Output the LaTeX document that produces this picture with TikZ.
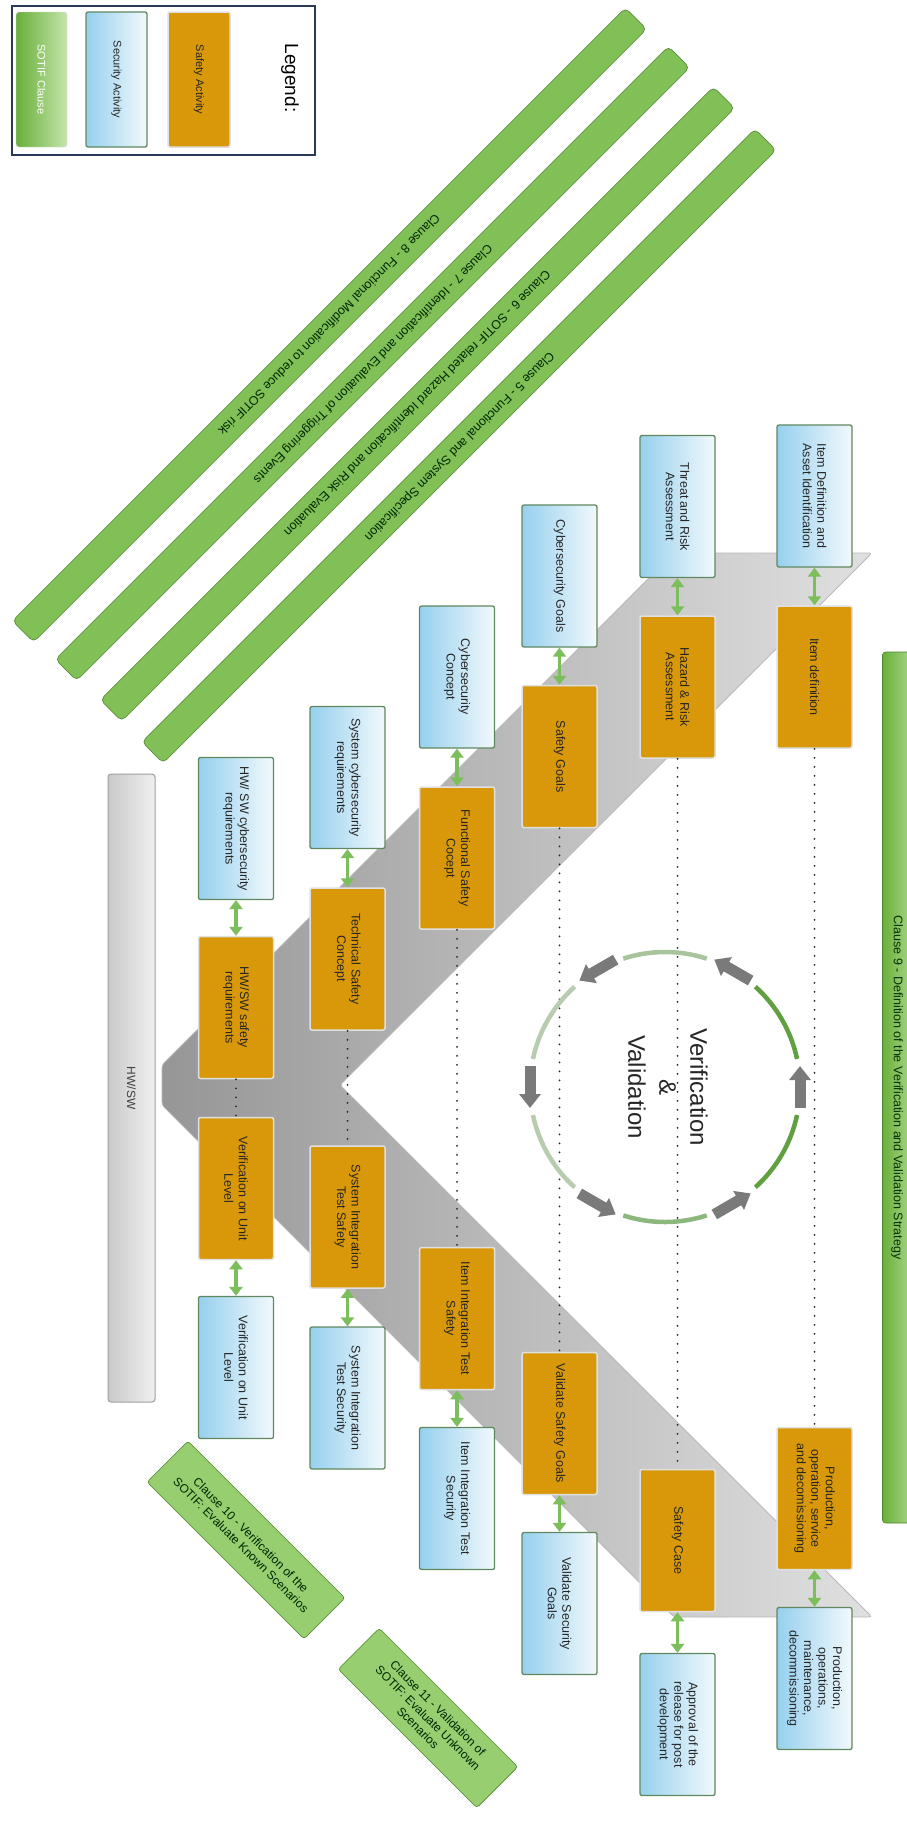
\documentclass[tikz,border=0pt]{standalone}
\usepackage{fontspec}
\setmainfont{Liberation Sans}
\usetikzlibrary{arrows.meta}
\definecolor{org}{RGB}{217,152,10}
\definecolor{bluel}{RGB}{150,208,238}
\definecolor{bluer}{RGB}{242,249,252}
\definecolor{bborder}{RGB}{96,136,96}
\definecolor{gdark}{RGB}{104,176,58}
\definecolor{glight}{RGB}{196,228,170}
\definecolor{gbar}{RGB}{128,192,86}
\definecolor{gbox}{RGB}{150,206,112}
\definecolor{arrowg}{RGB}{124,190,92}
\definecolor{navy}{RGB}{44,56,88}
\definecolor{vdark}{RGB}{150,150,150}
\definecolor{vlight}{RGB}{224,224,224}
\definecolor{ringl}{RGB}{184,204,176}
\definecolor{ringm}{RGB}{140,184,126}
\definecolor{ringd}{RGB}{96,160,64}
\definecolor{cycg}{RGB}{122,122,122}
\begin{document}
\begin{tikzpicture}[x=1pt,y=1pt,
  boxfont/.style={font=\fontsize{12.5}{14.5}\selectfont},
  safety/.style={boxfont, rotate=-90, minimum width=142pt, minimum height=75pt, rounded corners=2pt, fill=org, draw=white!88!black, line width=1.5pt, align=center, text=black!85, inner sep=2pt},
  security/.style={boxfont, rotate=-90, minimum width=142pt, minimum height=75pt, rounded corners=2pt, left color=bluel, right color=bluer, draw=bborder, line width=1.3pt, align=center, text=black!85, inner sep=2pt},
  dbl/.style={draw=arrowg, line width=3.5pt, {Triangle[width=13pt,length=9pt]}-{Triangle[width=13pt,length=9pt]}},
  dotline/.style={black!85, line width=2pt, dash pattern=on 0pt off 9pt, line cap=round},
  clausebar/.style={rotate=225, minimum width=867pt, minimum height=30pt, rounded corners=5pt, fill=gbar, draw=gdark!75!black, line width=0.6pt, font=\fontsize{12.5}{14}\selectfont, text=black!85!green, inner sep=0pt},
  clausebox/.style={rotate=-45, minimum height=58pt, rounded corners=3pt, fill=gbox, draw=gdark!75!black, line width=0.6pt, align=center, font=\fontsize{12}{14}\selectfont, text=black!85!green, inner sep=2pt},
  cyc/.style={draw=cycg, line width=11pt, -{Triangle[width=21pt,length=14pt]}},
  ring/.style={line width=4.5pt},
]
\useasboundingbox (0,0) rectangle (907,-1821);
\fill[white] (0,0) rectangle (907,-1821);

% Legend
\draw[navy, line width=2pt] (12,-6) rectangle (315,-155);
\node (lgclause) [rotate=-90, minimum width=135pt, minimum height=51pt, rounded corners=3pt, left color=gdark, right color=glight, draw=white!85!black, font=\fontsize{11}{13}\selectfont, text=white] at (41.5,-79.5) {SOTIF Clause};
\node (lgsec) [security, minimum width=135pt, minimum height=61pt, font=\fontsize{11}{13}\selectfont] at (116.5,-79.5) {Security Activity};
\node (lgsaf) [safety, minimum width=135pt, minimum height=62pt, font=\fontsize{11}{13}\selectfont] at (199,-79.5) {Safety Activity};
\node (lgtitle) [rotate=-90, font=\fontsize{19}{22}\selectfont] at (290,-78) {Legend:};

% Clause bars
\node[clausebar] (c8) at (329.5,-325) {Clause 8 - Functional Modification to reduce SOTIF risk};
\node[clausebar] (c7) at (372.5,-363.5) {Clause 7 - Identification and Evaluation of Triggering Events};
\node[clausebar] (c6) at (417.5,-404) {Clause 6 - SOTIF related Hazard Identification and Risk Evaluation};
\node[clausebar] (c5) at (459,-446) {Clause 5 - Functional and System Specification};

% Clause 9 banner
\node (c9) [rotate=-90, minimum width=871pt, minimum height=29pt, rounded corners=3pt, left color=gdark, right color=glight!70!gdark, draw=gdark!75!black, line width=0.6pt, font=\fontsize{12.5}{14}\selectfont, text=black!80!green] at (897,-1087.5) {Clause 9 - Definition of the Verification and Validation Strategy};

% V shape
\path[left color=vdark, right color=vlight, draw=gray!55, line width=0.8pt, rounded corners=3pt]
  (674,-553) -- (872,-553) -- (340,-1085) -- (872,-1617) -- (674,-1617) -- (162,-1105) -- (162,-1065) -- cycle;

% HW/SW bar
\node (hwsw) [rotate=-90, minimum width=628pt, minimum height=47pt, rounded corners=3pt, left color=gray!42, right color=gray!12, draw=gray!75, line width=1pt, font=\fontsize{12}{14}\selectfont, text=black!75] at (131.5,-1088) {HW/SW};

% Left arm
\node[security] (idai) at (814.5,-496) {Item Definition and\\Asset Identification};
\node[safety] (itemdef) at (814.5,-677) {Item definition};
\node[security] (tara) at (677.5,-506.5) {Threat and Risk\\Assessment};
\node[safety] (hara) at (677.5,-687) {Hazard \& Risk\\Assessment};
\node[security] (csgoals) at (559.5,-576) {Cybersecurity Goals};
\node[safety] (sgoals) at (559.5,-756.5) {Safety Goals};
\node[security] (csconcept) at (457,-677) {Cybersecurity\\Concept};
\node[safety] (fsc) at (457,-858) {Functional Safety\\Cocept};
\node[security] (syscsreq) at (347.5,-777.5) {System cybersecurity\\requirements};
\node[safety] (tsc) at (347.5,-959) {Technical Safety\\Concept};
\node[security] (hwcsreq) at (236,-828.5) {HW/ SW cybersecurity\\requirements};
\node[safety] (hwsreq) at (236,-1007.5) {HW/SW safety\\requirements};

% Right arm
\node[safety] (vulsaf) at (236,-1188.5) {Verification on Unit\\Level};
\node[security] (vulsec) at (236,-1367.5) {Verification on Unit\\Level};
\node[safety] (sitsaf) at (347.5,-1217) {System Integration\\Test Safety};
\node[security] (sitsec) at (347.5,-1398) {System Integration\\Test Security};
\node[safety] (iitsaf) at (457,-1318.5) {Item Integration Test\\Safety};
\node[security] (iitsec) at (457,-1498.5) {Item Integration Test\\Security};
\node[safety] (vsg) at (559.5,-1423.5) {Validate Safety Goals};
\node[security] (vsecg) at (559.5,-1603.5) {Validate Security\\Goals};
\node[safety] (scase) at (677.5,-1540.5) {Safety Case};
\node[security] (approval) at (677.5,-1724.5) {Approval of the\\release for post\\development};
\node[safety] (prodsaf) at (814.5,-1498.5) {Production,\\operation, service\\and decomissioning};
\node[security] (prodsec) at (814.5,-1678.5) {Production,\\operations,\\maintenance,\\decommissioning};

% Double arrows
\draw[dbl] (idai.east) -- (itemdef.west);
\draw[dbl] (tara.east) -- (hara.west);
\draw[dbl] (csgoals.east) -- (sgoals.west);
\draw[dbl] (csconcept.east) -- (fsc.west);
\draw[dbl] (syscsreq.east) -- (tsc.west);
\draw[dbl] (hwcsreq.east) -- (hwsreq.west);
\draw[dbl] (vulsaf.east) -- (vulsec.west);
\draw[dbl] (sitsaf.east) -- (sitsec.west);
\draw[dbl] (iitsaf.east) -- (iitsec.west);
\draw[dbl] (vsg.east) -- (vsecg.west);
\draw[dbl] (scase.east) -- (approval.west);
\draw[dbl] (prodsaf.east) -- (prodsec.west);

% Dotted lines
\draw[dotline] (itemdef.east) -- (prodsaf.west);
\draw[dotline] (hara.east) -- (scase.west);
\draw[dotline] (sgoals.east) -- (vsg.west);
\draw[dotline] (fsc.east) -- (iitsaf.west);
\draw[dotline] (tsc.east) -- (sitsaf.west);
\draw[dotline] (hwsreq.east) -- (vulsaf.west);

% Clause 10 / 11
\node[clausebox, minimum width=222pt] (c10) at (246,-1540) {Clause 10 - Verification of the\\SOTIF: Evaluate Known Scenarios};
\node[clausebox, minimum width=196pt] (c11) at (428,-1718) {Clause 11 - Validation of\\SOTIF: Evaluate Unknown\\Scenarios};

% Verification & Validation cycle
\coordinate (vvc) at (665,-1087);
\draw[ring, ringd] (vvc) ++(12:135) arc[start angle=12, end angle=48, radius=135];
\draw[ring, ringl!60!ringm] (vvc) ++(72:135) arc[start angle=72, end angle=108, radius=135];
\draw[ring, ringl] (vvc) ++(132:135) arc[start angle=132, end angle=168, radius=135];
\draw[ring, ringl] (vvc) ++(192:135) arc[start angle=192, end angle=228, radius=135];
\draw[ring, ringm] (vvc) ++(252:135) arc[start angle=252, end angle=288, radius=135];
\draw[ring, ringd] (vvc) ++(312:135) arc[start angle=312, end angle=348, radius=135];
\foreach \a in {0,60,120,180,240,300}{
  \path (vvc) ++(\a:135) ++(\a-90:21) coordinate (cs\a) ++(\a+90:42) coordinate (ce\a);
  \draw[cyc] (cs\a) -- (ce\a);
}
\node (vv) [rotate=-90, align=center, font=\fontsize{24}{31}\selectfont, text=black!85] at (668,-1087) {Verification\\\&\\Validation};
\end{tikzpicture}
\end{document}
